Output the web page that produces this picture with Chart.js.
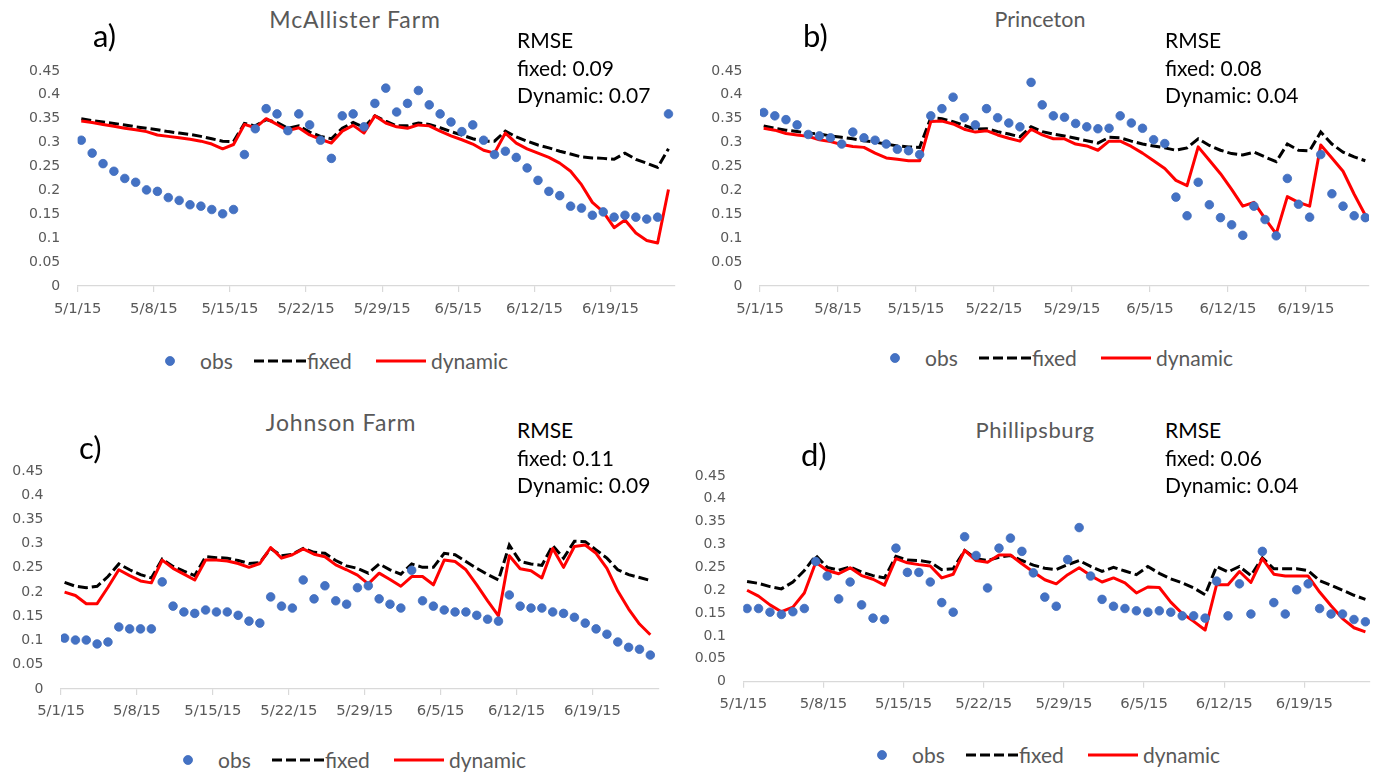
<!DOCTYPE html>
<html>
<head>
<meta charset="utf-8">
<script src="https://cdn.jsdelivr.net/npm/chart.js@4.4.1/dist/chart.umd.min.js"></script>
<style>
  html, body { margin: 0; padding: 0; background: #ffffff; }
  body { width: 1379px; height: 772px; position: relative; overflow: hidden; font-family: Lato, "Open Sans", sans-serif; }
  canvas { position: absolute; }
  .txt { position: absolute; white-space: nowrap; line-height: 1.2; transform: translateY(-50%); }
  .tag { font-size: 31px; color: #000000; }
  .title { color: #595959; transform: translate(-50%, -50%); }
  .rmse { font-size: 21px; color: #000000; }
  .legtxt { font-size: 21px; color: #595959; }
  .legmark { position: absolute; overflow: visible; }
</style>
</head>
<body>
<script>
// Daily soil-moisture series, 5/1/15 .. 6/24/15 (one value per day)
const DATES = [
  '5/1/15','5/2/15','5/3/15','5/4/15','5/5/15','5/6/15','5/7/15','5/8/15','5/9/15','5/10/15',
  '5/11/15','5/12/15','5/13/15','5/14/15','5/15/15','5/16/15','5/17/15','5/18/15','5/19/15','5/20/15',
  '5/21/15','5/22/15','5/23/15','5/24/15','5/25/15','5/26/15','5/27/15','5/28/15','5/29/15','5/30/15',
  '5/31/15','6/1/15','6/2/15','6/3/15','6/4/15','6/5/15','6/6/15','6/7/15','6/8/15','6/9/15',
  '6/10/15','6/11/15','6/12/15','6/13/15','6/14/15','6/15/15','6/16/15','6/17/15','6/18/15','6/19/15',
  '6/20/15','6/21/15','6/22/15','6/23/15','6/24/15'
];
const WEEK_TICK_LABELS = ['5/1/15','5/8/15','5/15/15','5/22/15','5/29/15','6/5/15','6/12/15','6/19/15'];
const Y_TICK_VALUES = [0, 0.05, 0.1, 0.15, 0.2, 0.25, 0.3, 0.35, 0.4, 0.45];

// a) McAllister Farm
const A_OBS = [0.305,0.278,0.256,0.240,0.225,0.217,0.201,0.198,0.185,0.179,0.170,0.167,0.160,0.151,0.160,
  0.275,0.329,0.371,0.360,0.325,0.360,0.337,0.305,0.267,0.356,0.360,0.333,
  0.382,0.414,0.364,0.382,0.409,0.379,0.360,0.343,0.323,0.337,0.305,0.275,0.282,0.269,0.247,0.221,0.198,0.189,
  0.167,0.163,0.148,0.155,0.144,0.148,0.144,0.140,0.144,0.360];
const A_FIXED = [0.350,0.346,0.343,0.340,0.337,0.333,0.330,0.327,0.323,0.320,0.317,0.313,0.308,0.303,0.302,
  0.340,0.335,0.348,0.342,0.330,0.335,0.322,0.313,0.308,0.330,0.342,0.332,
  0.356,0.345,0.335,0.335,0.341,0.338,0.331,0.323,0.316,0.308,0.303,0.303,0.324,0.312,0.303,0.295,0.289,0.282,
  0.276,0.270,0.268,0.267,0.265,0.278,0.265,0.257,0.248,0.287];
const A_DYN = [0.345,0.342,0.338,0.334,0.330,0.327,0.323,0.316,0.313,0.310,0.307,0.303,0.297,0.287,0.296,
  0.338,0.331,0.350,0.338,0.325,0.331,0.316,0.307,0.299,0.324,0.336,0.320,
  0.356,0.341,0.333,0.330,0.337,0.335,0.324,0.314,0.306,0.297,0.284,0.278,0.320,0.299,0.287,0.278,0.269,0.257,
  0.240,0.212,0.175,0.155,0.122,0.138,0.111,0.095,0.090,0.202];

// b) Princeton
const B_OBS = [0.363,0.356,0.348,0.337,0.317,0.314,0.310,0.297,0.322,0.310,0.305,0.297,0.286,0.283,0.275,
  0.356,0.371,0.395,0.352,0.337,0.371,0.352,0.341,0.333,0.426,0.379,
  0.356,0.353,0.340,0.333,0.329,0.330,0.356,0.341,0.330,0.306,0.298,0.186,0.147,0.217,0.170,0.143,0.128,0.106,
  0.167,0.139,0.105,0.225,0.171,0.144,0.275,0.193,0.167,0.147,0.143];
const B_FIXED = [0.335,0.330,0.326,0.323,0.320,0.318,0.314,0.311,0.308,0.304,0.301,0.297,0.293,0.291,0.290,
  0.352,0.350,0.344,0.336,0.328,0.329,0.323,0.318,0.312,0.333,0.323,
  0.318,0.314,0.309,0.304,0.299,0.311,0.310,0.303,0.297,0.293,0.289,0.284,0.289,0.308,0.294,0.284,0.277,0.274,
  0.280,0.270,0.260,0.297,0.284,0.283,0.322,0.297,0.280,0.270,0.262];
const B_DYN = [0.330,0.326,0.319,0.316,0.313,0.306,0.302,0.296,0.292,0.290,0.278,0.268,0.265,0.262,0.262,
  0.344,0.345,0.339,0.328,0.322,0.325,0.316,0.309,0.303,0.328,0.316,
  0.308,0.308,0.297,0.293,0.284,0.303,0.303,0.292,0.278,0.262,0.246,0.221,0.210,0.291,0.263,0.235,0.202,0.167,
  0.175,0.141,0.109,0.187,0.175,0.167,0.295,0.268,0.240,0.192,0.148];

// c) Johnson Farm
const C_OBS = [0.105,0.101,0.101,0.093,0.097,0.128,0.124,0.124,0.124,0.221,0.171,0.159,0.156,0.163,0.159,
  0.159,0.152,0.140,0.136,0.190,0.171,0.167,0.225,0.186,0.213,0.182,0.175,
  0.209,0.213,0.186,0.175,0.167,0.245,0.182,0.171,0.163,0.159,0.159,0.152,0.144,0.140,0.194,0.171,0.167,0.167,
  0.159,0.156,0.148,0.136,0.124,0.113,0.097,0.086,0.082,0.070];
const C_FIXED = [0.220,0.212,0.209,0.212,0.232,0.258,0.246,0.236,0.229,0.268,0.253,0.243,0.234,0.273,0.271,
  0.270,0.265,0.259,0.261,0.290,0.275,0.278,0.290,0.282,0.280,0.265,0.254,
  0.249,0.239,0.258,0.246,0.237,0.258,0.251,0.251,0.280,0.277,0.263,0.249,0.236,0.225,0.297,0.263,0.258,0.255,
  0.296,0.270,0.305,0.304,0.287,0.270,0.246,0.236,0.230,0.224];
const C_DYN = [0.200,0.193,0.176,0.176,0.210,0.246,0.234,0.223,0.219,0.266,0.249,0.237,0.225,0.266,0.266,
  0.264,0.259,0.251,0.259,0.292,0.270,0.277,0.289,0.278,0.273,0.256,0.246,
  0.235,0.217,0.239,0.226,0.212,0.232,0.232,0.215,0.266,0.263,0.246,0.215,0.182,0.151,0.275,0.248,0.244,0.229,
  0.290,0.251,0.294,0.297,0.280,0.249,0.202,0.165,0.134,0.112];

// d) Phillipsburg
const D_OBS = [0.160,0.160,0.152,0.147,0.153,0.160,0.263,0.231,0.181,0.218,0.168,0.139,0.136,0.292,0.239,
  0.239,0.218,0.173,0.152,0.317,0.276,0.205,0.292,0.314,0.285,
  0.238,0.185,0.165,0.267,0.337,0.231,0.180,0.165,0.160,0.155,0.152,0.155,0.152,0.144,0.144,0.139,0.220,0.144,
  0.214,0.148,0.285,0.173,0.148,0.201,0.214,0.160,0.148,0.148,0.136,0.131];
const D_FIXED = [0.219,0.215,0.208,0.203,0.218,0.243,0.276,0.250,0.244,0.251,0.240,0.232,0.227,0.274,0.266,
  0.265,0.261,0.245,0.247,0.287,0.269,0.265,0.272,0.276,0.265,
  0.255,0.248,0.245,0.256,0.265,0.252,0.241,0.250,0.242,0.234,0.252,0.237,0.225,0.216,0.205,0.190,0.252,0.240,
  0.252,0.232,0.271,0.247,0.247,0.247,0.243,0.221,0.211,0.200,0.189,0.180];
const D_DYN = [0.200,0.187,0.168,0.153,0.163,0.194,0.261,0.243,0.236,0.249,0.232,0.224,0.211,0.269,0.260,
  0.256,0.253,0.227,0.235,0.287,0.265,0.261,0.277,0.277,0.258,
  0.240,0.223,0.214,0.234,0.249,0.232,0.218,0.227,0.216,0.194,0.207,0.206,0.174,0.149,0.132,0.113,0.212,0.212,
  0.241,0.217,0.269,0.235,0.231,0.231,0.231,0.196,0.166,0.138,0.118,0.109];

const SITES = ['McAllister Farm', 'Princeton', 'Johnson Farm', 'Phillipsburg'];
const TAGS = ['a)', 'b)', 'c)', 'd)'];
const RMSE_FIXED = ['0.09', '0.08', '0.11', '0.06'];
const RMSE_DYNAMIC = ['0.07', '0.04', '0.09', '0.04'];
const SERIES_NAMES = ['obs', 'fixed', 'dynamic'];

// ---- styling ----
const TICK_FONT = '"DejaVu Sans", Verdana, sans-serif';
const TEXT_GRAY = '#595959';
const AXIS_GRAY = '#d9d9d9';
const OBS_BLUE = '#4472C4';
const OBS_EDGE = '#3f6bbb';
const FIXED_BLACK = '#000000';
const DYN_RED = '#ff0000';
const DASH = [10, 4];
const TICK_SHIFT = 0.33;   // week ticks sit slightly before the daily samples

// canvas box (x, y, w, h), plot rectangle and decoration anchors for each panel
const LAYOUT = [
  { x: 0,   y: 45,  w: 690, h: 290, plotL: 77.7,  plotT: 65,    plotR: 675,  plotB: 286,   xMax: 54.6,  xPad: 8,
    tag: [107, 36], title: [355, 20], titleSize: 23, titleSpacing: 0.9, rmse: [517, 40], legend: [0, 361] },
  { x: 690, y: 45,  w: 689, h: 290, plotL: 760,   plotT: 65,    plotR: 1369, plotB: 286,   xMax: 54.33, xPad: 8,
    tag: [817, 36], title: [1040, 20], titleSize: 21.5, titleSpacing: 0, rmse: [1165, 40], legend: [725, 358] },
  { x: 0,   y: 445, w: 690, h: 290, plotL: 61,    plotT: 468.3, plotR: 659,  plotB: 689,   xMax: 54.8,  xPad: 7,
    tag: [93, 448], title: [341, 423], titleSize: 23, titleSpacing: 0.9, rmse: [517, 430], legend: [18, 760] },
  { x: 690, y: 450, w: 689, h: 280, plotL: 743.3, plotT: 475,   plotR: 1370, plotB: 681.7, xMax: 54.4,  xPad: 8,
    tag: [815, 455], title: [1035, 430], titleSize: 22, titleSpacing: 0.6, rmse: [1165, 430], legend: [712, 755] }
];

const SERIES = [
  [A_OBS, A_FIXED, A_DYN],
  [B_OBS, B_FIXED, B_DYN],
  [C_OBS, C_FIXED, C_DYN],
  [D_OBS, D_FIXED, D_DYN]
];

// x = day number counted from the first date
const toPoints = arr => arr.map((v, i) => ({ x: DATES.indexOf(DATES[i]), y: v }));

function addText(cls, text, x, y) {
  const el = document.createElement('div');
  el.className = 'txt ' + cls;
  el.textContent = text;
  el.style.left = x + 'px';
  el.style.top = y + 'px';
  document.body.appendChild(el);
  return el;
}

function addSvg(x, y, w, h, inner) {
  const ns = 'http://www.w3.org/2000/svg';
  const svg = document.createElementNS(ns, 'svg');
  svg.setAttribute('class', 'legmark');
  svg.setAttribute('width', w);
  svg.setAttribute('height', h);
  svg.style.left = x + 'px';
  svg.style.top = y + 'px';
  svg.innerHTML = inner;
  document.body.appendChild(svg);
}

function addLegend(ox, oy) {
  addSvg(ox + 165, oy - 5, 10, 10,
    `<circle cx="5" cy="5" r="4.5" fill="${OBS_BLUE}" stroke="${OBS_EDGE}" stroke-width="0.8"/>`);
  addText('legtxt', SERIES_NAMES[0], ox + 200, oy);
  addSvg(ox + 254, oy - 3, 52, 6,
    `<line x1="0" y1="3" x2="52" y2="3" stroke="${FIXED_BLACK}" stroke-width="3" stroke-dasharray="${DASH.join(' ')}"/>`);
  addText('legtxt', SERIES_NAMES[1], ox + 307, oy);
  addSvg(ox + 376, oy - 3, 50, 6,
    `<line x1="0" y1="3" x2="50" y2="3" stroke="${DYN_RED}" stroke-width="3"/>`);
  addText('legtxt', SERIES_NAMES[2], ox + 431, oy);
}

function buildPanel(k) {
  const g = LAYOUT[k];
  const [obs, fixed, dyn] = SERIES[k];

  const cv = document.createElement('canvas');
  cv.width = g.w; cv.height = g.h;
  cv.style.left = g.x + 'px'; cv.style.top = g.y + 'px';
  cv.style.width = g.w + 'px'; cv.style.height = g.h + 'px';
  document.body.appendChild(cv);

  new Chart(cv.getContext('2d'), {
    type: 'line',
    data: {
      datasets: [
        { label: SERIES_NAMES[0], data: toPoints(obs), showLine: false, order: 0,
          pointRadius: 4.3, pointHoverRadius: 4.3, pointBackgroundColor: OBS_BLUE,
          pointBorderColor: OBS_EDGE, pointBorderWidth: 0.8 },
        { label: SERIES_NAMES[2], data: toPoints(dyn), order: 1, borderColor: DYN_RED,
          borderWidth: 3, pointRadius: 0, tension: 0, fill: false, borderJoinStyle: 'round' },
        { label: SERIES_NAMES[1], data: toPoints(fixed), order: 2, borderColor: FIXED_BLACK,
          borderWidth: 3, borderDash: DASH, pointRadius: 0, tension: 0, fill: false }
      ]
    },
    options: {
      responsive: false,
      animation: false,
      events: [],
      layout: { padding: { left: 0, top: g.plotT - g.y, right: g.x + g.w - g.plotR, bottom: 0 } },
      plugins: { legend: { display: false }, tooltip: { enabled: false }, title: { display: false } },
      scales: {
        x: {
          type: 'linear',
          min: -TICK_SHIFT,
          max: g.xMax,
          afterBuildTicks: s => { s.ticks = WEEK_TICK_LABELS.map(l => ({ value: DATES.indexOf(l) - TICK_SHIFT })); },
          afterFit: s => { s.height = g.y + g.h - g.plotB; },
          grid: { drawOnChartArea: false, drawTicks: true, tickLength: 6, color: AXIS_GRAY, lineWidth: 1.2 },
          border: { display: true, color: AXIS_GRAY, width: 1.2 },
          ticks: {
            autoSkip: false, maxRotation: 0, minRotation: 0, padding: g.xPad,
            color: TEXT_GRAY, font: { family: TICK_FONT, size: 14.8 },
            callback: (v, i) => WEEK_TICK_LABELS[i]
          }
        },
        y: {
          min: 0,
          max: 0.45,
          afterBuildTicks: s => { s.ticks = Y_TICK_VALUES.map(v => ({ value: v })); },
          afterFit: s => { s.width = g.plotL - g.x; },
          grid: { display: false, drawTicks: false },
          border: { display: false },
          ticks: {
            padding: 17.5, color: TEXT_GRAY, font: { family: TICK_FONT, size: 14 },
            callback: v => String(+v.toFixed(2))
          }
        }
      }
    }
  });

  addText('tag', TAGS[k], g.tag[0] - 14, g.tag[1]);
  const t = addText('title', SITES[k], g.title[0], g.title[1]);
  t.style.fontSize = g.titleSize + 'px';
  t.style.letterSpacing = g.titleSpacing + 'px';
  addText('rmse', 'RMSE', g.rmse[0], g.rmse[1]);
  addText('rmse', 'fixed: ' + RMSE_FIXED[k], g.rmse[0], g.rmse[1] + 27.5);
  addText('rmse', 'Dynamic: ' + RMSE_DYNAMIC[k], g.rmse[0], g.rmse[1] + 55);
  addLegend(g.legend[0], g.legend[1]);
}

for (let k = 0; k < LAYOUT.length; k++) buildPanel(k);
</script>
</body>
</html>
